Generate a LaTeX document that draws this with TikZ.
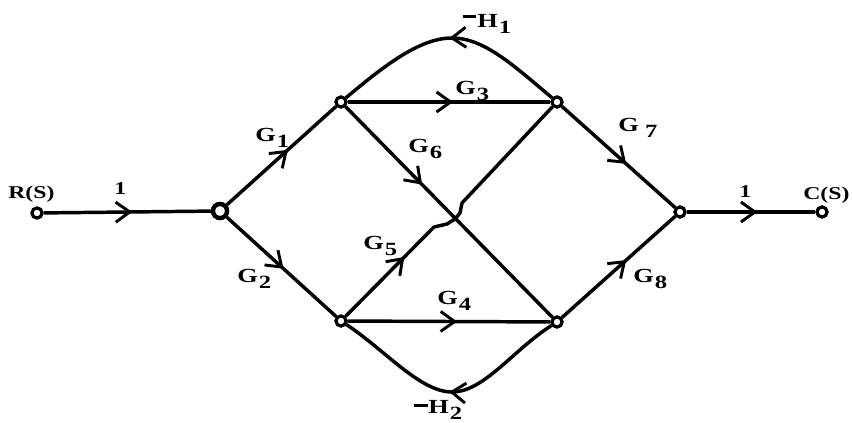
\documentclass[tikz,border=0pt]{standalone}
\usepackage{fontspec}
\usepackage{graphicx}
\setmainfont{Liberation Serif}
\usetikzlibrary{arrows.meta,decorations.markings}
\newcommand{\wide}[1]{\scalebox{1.32}[1]{#1}}
\newcommand{\gsub}[2]{\wide{#1\kern0.6pt\raisebox{-4.5pt}{\fontsize{14}{14}\selectfont #2}}}
\begin{document}
\begin{tikzpicture}[x=0.75pt,y=-0.75pt,
  edge/.style={line width=2.6pt,line join=round},
  marr/.style={postaction={decorate,decoration={markings,mark=at position #1 with {\arrow{Straight Barb[length=10.5pt,width=15pt,line width=2.2pt]}}}}},
  sig/.style={circle,draw,fill=white,line width=2.3pt,inner sep=0pt,minimum size=7.5pt},
  bigsig/.style={circle,draw,fill=white,line width=3.2pt,inner sep=0pt,minimum size=10.5pt},
  lab/.style={font=\bfseries\fontsize{15}{17}\selectfont,inner sep=0pt,anchor=base west},
  sm/.style={font=\bfseries\fontsize{13.5}{16}\selectfont,inner sep=0pt,anchor=base west}]
\useasboundingbox (0,0) rectangle (852,423);
% nodes
\node[sig] (R) at (37,213) {};
\node[bigsig] (N1) at (220,211) {};
\node[sig] (A) at (341,102) {};
\node[sig] (B) at (557,102) {};
\node[sig] (C) at (341,321) {};
\node[sig] (D) at (557,322) {};
\node[sig] (E) at (680,212) {};
\node[sig] (CS) at (822,212) {};
\coordinate (h1) at (452,38);
\coordinate (h2) at (452,392);
% edges
\draw[edge,marr=0.53] (R) -- (N1);
\draw[edge,marr=0.56] (N1) -- (A);
\draw[edge,marr=0.52] (N1) -- (C);
\draw[edge,marr=0.52] (A) -- (B);
\draw[edge,marr=0.37] (A) -- (D);
\draw[edge,marr=0.54] (C) -- (D);
\draw[edge,marr=0.28] (C) -- (434,227) -- (447,224) -- (455,219) -- (460,213) -- (462,203) -- (B);
\draw[edge,marr=0.57] (B) -- (E);
\draw[edge,marr=0.57] (D) -- (E);
\draw[edge,marr=0.55] (E) -- (CS);
\draw[edge,marr=0.5] (B) .. controls (513,65) and (484,38) .. (h1) .. controls (420,38) and (385,65) .. (A);
\draw[edge,marr=0.5] (D) .. controls (513,350) and (484,392) .. (h2) .. controls (420,392) and (385,350) .. (C);
% redraw nodes on top
\node[sig] at (R) {};
\node[bigsig] at (N1) {};
\node[sig] at (A) {};
\node[sig] at (B) {};
\node[sig] at (C) {};
\node[sig] at (D) {};
\node[sig] at (E) {};
\node[sig] at (CS) {};
% labels
\node[sm] (lR) at (8,199) {\wide{R(S)}};
\node[sm] (l1a) at (114,195) {\wide{1}};
\node[sm] (l1b) at (739,198) {\wide{1}};
\node[sm] (lC) at (803,200) {\wide{C(S)}};
\node[lab] (g1) at (255,142) {\gsub{G}{1}};
\node[lab] (g2) at (237,283) {\gsub{G}{2}};
\node[lab] (g3) at (455,95) {\gsub{G}{3}};
\node[lab] (g4) at (437,305) {\gsub{G}{4}};
\node[lab] (g5) at (363,250) {\gsub{G}{5}};
\node[lab] (g6) at (408,153) {\gsub{G}{6}};
\node[lab] (g7) at (618,132) {\gsub{G}{\kern3pt 7}};
\node[lab] (g8) at (633,283) {\gsub{G}{8}};
\node[lab] (lh1) at (463,28) {\wide{\rule[7.5pt]{7pt}{2.4pt}\kern1pt}\gsub{H}{1}};
\node[lab] (lh2) at (414,413) {\wide{\rule[4.5pt]{8pt}{2.6pt}}\gsub{H}{2}};
\end{tikzpicture}
\end{document}
